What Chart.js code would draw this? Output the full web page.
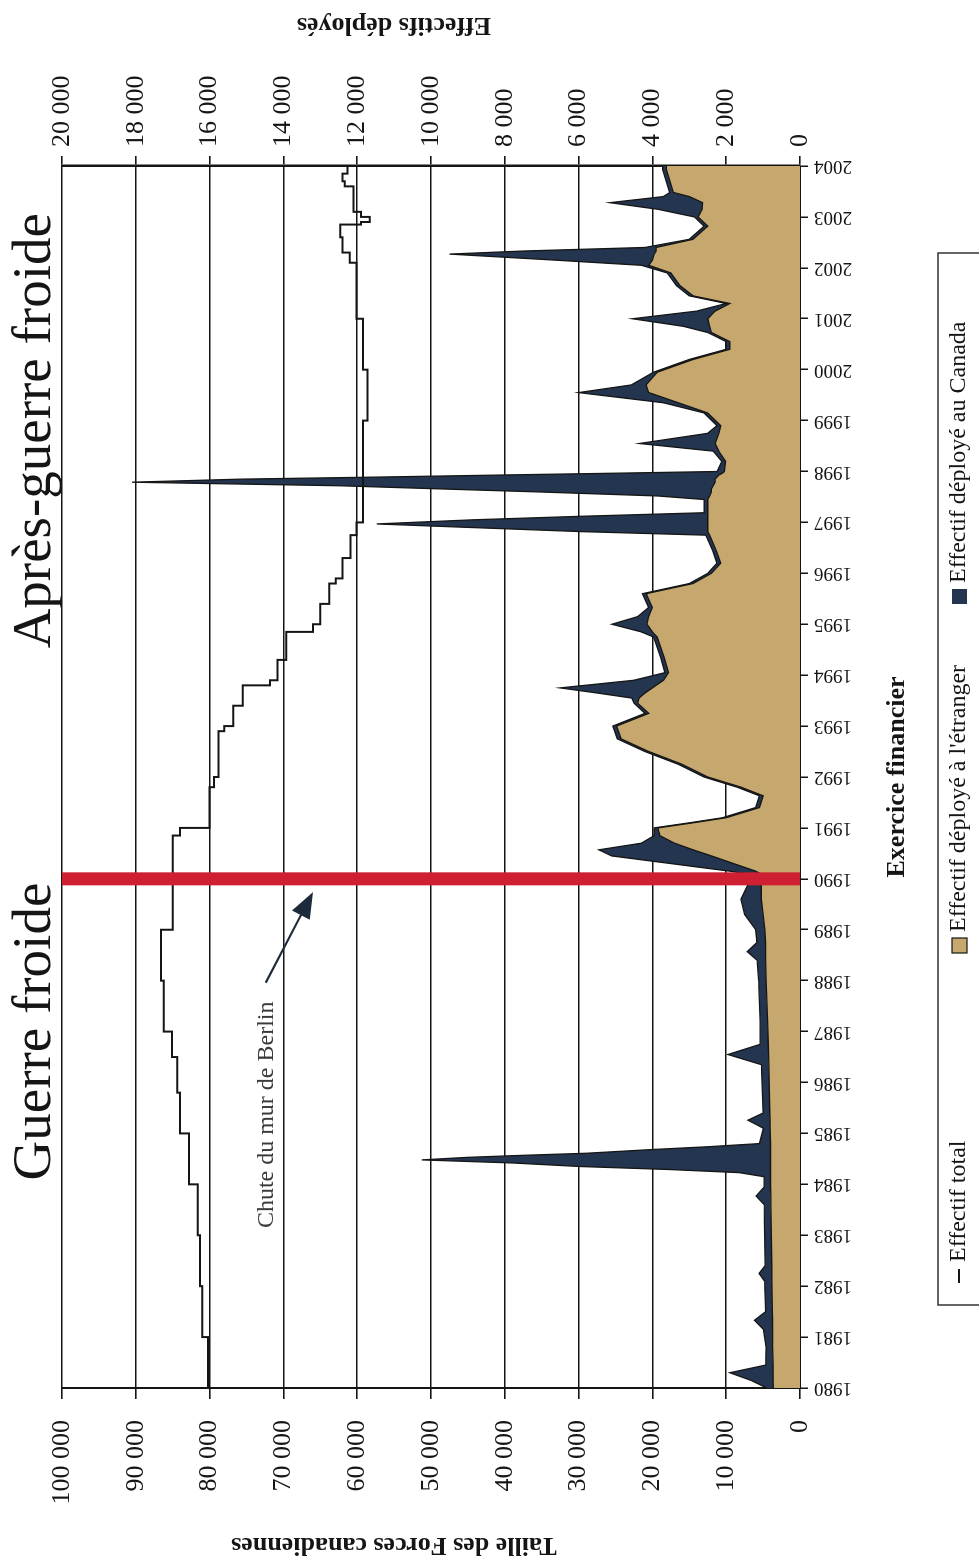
<!DOCTYPE html>
<html>
<head>
<meta charset="utf-8">
<script src="https://cdn.jsdelivr.net/npm/chart.js@4.4.1/dist/chart.umd.min.js"></script>
<style>
  html, body { margin: 0; padding: 0; background: #fff; overflow: hidden; }
  /* chart is drawn landscape, then turned a quarter to the left like the scan */
  #wrap {
    position: absolute; left: 0; top: 0;
    width: 1562px; height: 979px;
    transform-origin: 0 0;
    transform: translate(0, 1562px) rotate(-90deg);
  }
</style>
</head>
<body>
<div id="wrap"><canvas id="chart" width="1562" height="979"></canvas></div>
<script>
// years on the axis
var years = [1980, 1981, 1982, 1983, 1984, 1985, 1986, 1987, 1988, 1989, 1990, 1991,
  1992, 1993, 1994, 1995, 1996, 1997, 1998, 1999, 2000, 2001, 2002, 2003, 2004];

// Effectif total (left axis), value holds from each date to the next
var totalDates = [1980.0, 1981.0, 1982.0, 1983.0, 1984.0, 1985.0, 1985.8, 1986.5, 1987.0, 1988.0,
  1989.0, 1990.85, 1991.0, 1991.8, 1992.0, 1992.9, 1993.0, 1993.4, 1993.8, 1993.9,
  1994.3, 1994.85, 1995.0, 1995.4, 1995.8, 1995.9, 1996.3, 1996.75, 1997.0, 1999.0,
  2000.0, 2001.0, 2002.1, 2002.3, 2002.6, 2002.85, 2002.9, 2003.0, 2003.1, 2003.6,
  2003.7, 2003.85, 2004.0];
var totalForce = [79600, 80200, 81000, 81300, 81600, 82800, 84000, 84400, 85100, 86200,
  86600, 85000, 84000, 80000, 79400, 78800, 78000, 76800, 75500, 71800,
  70800, 69600, 66000, 65000, 63800, 62900, 62000, 60900, 60100, 59200,
  58600, 59200, 60100, 61000, 62000, 62300, 59500, 58300, 59500, 60500,
  61700, 62000, 61300];

// deployments (right axis)
var dates = [1980.00, 1980.15, 1980.30, 1980.45, 1980.80, 1981.15, 1981.33, 1981.50, 1982.10, 1982.25,
  1982.40, 1983.60, 1983.77, 1983.95, 1984.15, 1984.23, 1984.29, 1984.35, 1984.42, 1984.48,
  1984.53, 1984.57, 1984.61, 1984.68, 1984.74, 1984.80, 1985.10, 1985.26, 1985.40, 1986.35,
  1986.55, 1986.75, 1987.20, 1988.00, 1988.40, 1988.57, 1988.75, 1989.00, 1989.30, 1989.60,
  1989.90, 1990.05, 1990.15, 1990.30, 1990.45, 1990.57, 1990.70, 1990.85, 1991.00, 1991.10,
  1991.20, 1991.40, 1991.63, 1991.80, 1992.00, 1992.25, 1992.50, 1992.75, 1993.00, 1993.25,
  1993.45, 1993.55, 1993.65, 1993.75, 1993.90, 1994.05, 1994.35, 1994.75, 1994.85, 1995.00,
  1995.15, 1995.33, 1995.60, 1995.80, 1996.00, 1996.20, 1996.45, 1996.75, 1996.82, 1996.90,
  1996.97, 1997.05, 1997.12, 1997.19, 1997.45, 1997.52, 1997.60, 1997.66, 1997.72, 1997.79,
  1997.85, 1997.89, 1997.93, 1997.97, 1998.00, 1998.20, 1998.40, 1998.55, 1998.75, 1998.90,
  1999.15, 1999.35, 1999.55, 1999.70, 1999.95, 2000.20, 2000.40, 2000.55, 2000.73, 2000.85,
  2001.00, 2001.15, 2001.30, 2001.45, 2001.65, 2001.90, 2002.05, 2002.15, 2002.27, 2002.33,
  2002.40, 2002.56, 2002.82, 2003.00, 2003.15, 2003.28, 2003.40, 2003.48, 2003.93, 2004.00];
var abroad = [720, 730, 730, 730, 740, 740, 745, 750, 760, 760,
  765, 790, 790, 800, 800, 800, 800, 800, 800, 800,
  800, 800, 800, 800, 800, 800, 810, 810, 820, 845,
  850, 860, 880, 920, 930, 930, 935, 950, 1000, 1050,
  1050, 950, 1200, 1800, 2400, 2900, 3400, 3800, 3850, 2900,
  2000, 1100, 1000, 1600, 2500, 3200, 4100, 4850, 4970, 4100,
  4400, 4360, 4200, 4000, 3700, 3560, 3680, 3870, 4000, 4150,
  4100, 4000, 4170, 2900, 2400, 2150, 2270, 2450, 2500, 2500,
  2500, 2500, 2500, 2500, 2500, 2450, 2400, 2400, 2350, 2300,
  2300, 2250, 2200, 2100, 2050, 2020, 2200, 2300, 2200, 2150,
  2500, 3300, 4100, 4170, 3870, 2900, 1900, 1900, 2400, 2450,
  2500, 2300, 1900, 2900, 3250, 3500, 4100, 4000, 3950, 3900,
  3900, 2900, 2500, 2760, 2650, 2640, 3000, 3430, 3620, 3620];
var canada = [180, 600, 1170, 200, 180, 250, 490, 180, 200, 350,
  180, 180, 400, 170, 170, 850, 2700, 5150, 7000, 9450,
  8200, 6700, 5000, 3300, 1650, 300, 180, 600, 180, 200,
  1100, 220, 200, 200, 230, 500, 230, 250, 500, 550,
  350, 100, 700, 1700, 2700, 2550, 900, 150, 100, 100,
  100, 100, 100, 100, 100, 100, 100, 100, 100, 100,
  100, 200, 1300, 2500, 800, 100, 100, 100, 300, 950,
  300, 100, 100, 100, 100, 100, 100, 100, 3450, 6400,
  8970, 6400, 3450, 100, 100, 1415, 4720, 7420, 10100, 15800,
  12850, 9220, 5960, 2600, 200, 100, 150, 2050, 300, 100,
  100, 400, 1900, 400, 100, 100, 100, 100, 100, 700,
  2040, 500, 100, 100, 100, 100, 200, 2600, 5550, 3600,
  300, 100, 100, 100, 1200, 2510, 700, 100, 100, 100];

var wallYear = 1990;

var TAN = '#c6a86e';
var NAVY = '#24354f';
var RED = '#cf1f32';
var INK = '#151515';
var SERIF = '"Liberation Serif", "DejaVu Serif", serif';

function spaced(v) {
  return String(v).replace(/\B(?=(\d{3})+(?!\d))/g, ' ');
}

function label(ctx, s, x, y, font, rot, align) {
  ctx.save();
  ctx.translate(x, y);
  ctx.rotate(rot || 0);
  ctx.font = font;
  ctx.fillStyle = INK;
  ctx.textAlign = align || 'center';
  ctx.textBaseline = 'middle';
  ctx.fillText(s, 0, 0);
  ctx.restore();
}

var extras = {
  id: 'extras',
  afterDatasetsDraw: function (chart) {
    var ctx = chart.ctx, a = chart.chartArea;
    var x = chart.scales.x, y = chart.scales.y;

    // fall of the wall
    var rx = x.getPixelForValue(wallYear);
    ctx.save();
    ctx.strokeStyle = RED;
    ctx.lineWidth = 13;
    ctx.beginPath();
    ctx.moveTo(rx, a.top);
    ctx.lineTo(rx, a.bottom);
    ctx.stroke();

    // arrow to the red line
    var x0 = x.getPixelForValue(1987.96), y0 = y.getPixelForValue(72400);
    var x1 = x.getPixelForValue(1989.74), y1 = y.getPixelForValue(66000);
    var ang = Math.atan2(y1 - y0, x1 - x0);
    ctx.strokeStyle = '#1d2a3b';
    ctx.fillStyle = '#1d2a3b';
    ctx.lineWidth = 2.2;
    ctx.beginPath();
    ctx.moveTo(x0, y0);
    ctx.lineTo(x1 - 18 * Math.cos(ang), y1 - 18 * Math.sin(ang));
    ctx.stroke();
    ctx.beginPath();
    ctx.moveTo(x1, y1);
    ctx.lineTo(x1 - 26 * Math.cos(ang) + 10 * Math.sin(ang), y1 - 26 * Math.sin(ang) - 10 * Math.cos(ang));
    ctx.lineTo(x1 - 26 * Math.cos(ang) - 10 * Math.sin(ang), y1 - 26 * Math.sin(ang) + 10 * Math.cos(ang));
    ctx.closePath();
    ctx.fill();
    ctx.restore();

    ctx.save();
    ctx.fillStyle = '#3a3a3a';
    ctx.font = '24px ' + SERIF;
    ctx.textAlign = 'left';
    ctx.textBaseline = 'middle';
    ctx.fillText('Chute du mur de Berlin', x.getPixelForValue(1983.14), y.getPixelForValue(72300));
    ctx.restore();
  },
  afterDraw: function (chart) {
    var ctx = chart.ctx, a = chart.chartArea, x = chart.scales.x;

    // period headings above the plot
    label(ctx, 'Guerre froide', x.getPixelForValue(1987.0), 36, '55px ' + SERIF);
    label(ctx, 'Après-guerre froide', x.getPixelForValue(1998.8), 36, '55px ' + SERIF);

    // axis titles
    label(ctx, 'Taille des Forces canadiennes', 17, 394, 'bold 26px ' + SERIF, -Math.PI / 2);
    label(ctx, 'Effectifs déployés', 1537, 394, 'bold 26px ' + SERIF, -Math.PI / 2);
    label(ctx, 'Exercice financier', (a.left + a.right) / 2, 897, 'bold 26px ' + SERIF);

    // legend box
    ctx.save();
    ctx.strokeStyle = '#333';
    ctx.lineWidth = 1.5;
    ctx.strokeRect(257, 938, 1052, 60);
    var ly = 959;
    ctx.strokeStyle = INK;
    ctx.lineWidth = 2;
    ctx.beginPath();
    ctx.moveTo(279, ly);
    ctx.lineTo(293, ly);
    ctx.stroke();
    ctx.lineWidth = 1.2;
    ctx.fillStyle = TAN;
    ctx.fillRect(609, ly - 7, 15, 15);
    ctx.strokeRect(609, ly - 7, 15, 15);
    ctx.fillStyle = NAVY;
    ctx.fillRect(958, ly - 7, 15, 15);
    ctx.restore();
    var lf = '24px ' + SERIF;
    label(ctx, chart.data.datasets[0].label, 300, ly, lf, 0, 'left');
    label(ctx, chart.data.datasets[1].label, 630, ly, lf, 0, 'left');
    label(ctx, chart.data.datasets[2].label, 979, ly, lf, 0, 'left');
  }
};

var ctx = document.getElementById('chart').getContext('2d');
var myChart = new Chart(ctx, {
  type: 'line',
  data: {
    datasets: [
      {
        label: 'Effectif total',
        data: totalDates.map(function (d, i) { return { x: d, y: totalForce[i] }; }),
        yAxisID: 'y',
        borderColor: INK,
        borderWidth: 2,
        stepped: 'after',
        pointRadius: 0,
        fill: false,
      },
      {
        label: "Effectif déployé à l'étranger",
        data: dates.map(function (d, i) { return { x: d, y: abroad[i] }; }),
        yAxisID: 'y1',
        borderColor: INK,
        borderWidth: 1.3,
        backgroundColor: TAN,
        pointRadius: 0,
        fill: 'origin',
      },
      {
        label: 'Effectif déployé au Canada',
        // stacked on top of the abroad series
        data: dates.map(function (d, i) { return { x: d, y: abroad[i] + canada[i] }; }),
        yAxisID: 'y1',
        borderColor: INK,
        borderWidth: 1.3,
        backgroundColor: NAVY,
        pointRadius: 0,
        fill: '-1',
      },
    ],
  },
  options: {
    responsive: false,
    animation: false,
    layout: { padding: { top: 62, bottom: 59, left: 0, right: 0 } },
    plugins: {
      legend: { display: false },
      tooltip: { enabled: false },
    },
    scales: {
      x: {
        type: 'linear',
        min: years[0],
        max: years[years.length - 1],
        afterBuildTicks: function (s) { s.ticks = years.map(function (v) { return { value: v }; }); },
        ticks: {
          autoSkip: false,
          minRotation: 90,
          maxRotation: 90,
          padding: 6,
          color: INK,
          font: { family: SERIF, size: 19 },
          callback: function (v) { return String(v); },
        },
        grid: { drawOnChartArea: false, tickLength: 8, color: INK, lineWidth: 1.5 },
        border: { color: INK, width: 2 },
        afterFit: function (s) { s.height = 120; },
      },
      y: {
        position: 'left',
        min: 0,
        max: 100000,
        ticks: {
          stepSize: 10000,
          padding: 21,
          color: INK,
          font: { family: SERIF, size: 26 },
          callback: spaced,
        },
        grid: { color: INK, lineWidth: 1.6, tickLength: 11 },
        border: { color: INK, width: 2 },
        afterFit: function (s) { s.width = 174; },
      },
      y1: {
        position: 'right',
        min: 0,
        max: 20000,
        ticks: {
          stepSize: 2000,
          padding: 9,
          color: INK,
          font: { family: SERIF, size: 26 },
          callback: spaced,
        },
        grid: { drawOnChartArea: false, color: INK, lineWidth: 1.6, tickLength: 10 },
        border: { color: INK, width: 2.5 },
        afterFit: function (s) { s.width = 166; },
      },
    },
  },
  plugins: [extras],
});
</script>
</body>
</html>
